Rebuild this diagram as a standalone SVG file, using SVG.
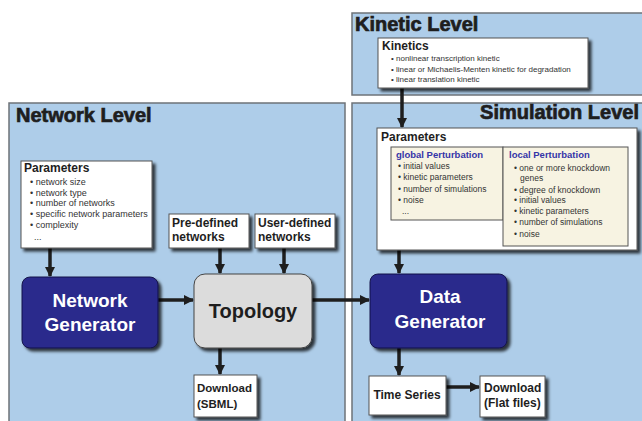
<svg xmlns="http://www.w3.org/2000/svg" width="642" height="421" viewBox="0 0 642 421">
<defs>
<filter id="sh" x="-10%" y="-10%" width="130%" height="140%">
<feDropShadow dx="3" dy="3" stdDeviation="1.6" flood-color="#000" flood-opacity="0.75"/>
</filter>
<marker id="ah" markerUnits="userSpaceOnUse" markerWidth="12" markerHeight="12" refX="9" refY="5" orient="auto">
<path d="M0,0 L10,5 L0,10 z" fill="#1e1e1e"/>
</marker>
</defs>
<style>
.panel{fill:#aecde9;stroke:#6e7378;stroke-width:1.5}
.ptitle{font-family:"Liberation Sans",Arial,sans-serif;font-weight:bold;font-size:20px;fill:#1e1e1e;stroke:#1e1e1e;stroke-width:0.7}
.box{fill:#fff;stroke:#555;stroke-width:1;filter:url(#sh)}
.sub{fill:#f7f3e2;stroke:#555;stroke-width:1}
.h{font-family:"Liberation Sans",Arial,sans-serif;font-weight:bold;font-size:12px;fill:#1e1e1e}
.it{font-family:"Liberation Sans",Arial,sans-serif;font-size:9px;fill:#333}
.it8{font-family:"Liberation Sans",Arial,sans-serif;font-size:8px;fill:#333}
.it85{font-family:"Liberation Sans",Arial,sans-serif;font-size:8.5px;fill:#333}
.bh{font-family:"Liberation Sans",Arial,sans-serif;font-weight:bold;font-size:9.5px;fill:#3535a8}
.gen{fill:#2b2b8c;stroke:#15154a;stroke-width:1;filter:url(#sh)}
.gt{font-family:"Liberation Sans",Arial,sans-serif;font-weight:bold;font-size:19px;fill:#fff;text-anchor:middle}
.topo{fill:#dcdcdc;stroke:#444;stroke-width:1;filter:url(#sh)}
.conn{stroke:#1e1e1e;stroke-width:3.5;fill:none;marker-end:url(#ah)}
</style>
<rect width="642" height="421" fill="#fff"/>
<g id="network-level">
<rect class="panel" x="9" y="103" width="336" height="330"/>
<text class="ptitle" x="16" y="122">Network Level</text>
</g>
<g id="kinetic-level">
<rect class="panel" x="352" y="13" width="300" height="82"/>
<text class="ptitle" x="355" y="31">Kinetic Level</text>
</g>
<g id="simulation-level">
<rect class="panel" x="352" y="103" width="300" height="330"/>
<text class="ptitle" x="639" y="119" text-anchor="end">Simulation Level</text>
</g>
<g id="connectors">
<line class="conn" x1="50" y1="248" x2="50" y2="276"/>
<line class="conn" x1="220" y1="248" x2="220" y2="273"/>
<line class="conn" x1="284" y1="248" x2="284" y2="273"/>
<line class="conn" x1="158" y1="300" x2="193" y2="300"/>
<line class="conn" x1="312" y1="300" x2="369" y2="300"/>
<line class="conn" x1="220" y1="348" x2="220" y2="374"/>
<line class="conn" x1="402" y1="88" x2="402" y2="127"/>
<line class="conn" x1="399" y1="250" x2="399" y2="273"/>
<line class="conn" x1="399" y1="348" x2="399" y2="375"/>
<line class="conn" x1="446" y1="387" x2="479" y2="387"/>
</g>
<g id="net-params">
<rect class="box" x="21" y="161" width="131" height="87"/>
<text class="h" x="24" y="172">Parameters</text>
<text class="it" x="30" y="185">• network size</text>
<text class="it" x="30" y="196">• network type</text>
<text class="it" x="30" y="206">• number of networks</text>
<text class="it" x="30" y="217">• specific network parameters</text>
<text class="it" x="30" y="228">• complexity</text>
<text class="it" x="34" y="240">...</text>
</g>
<g id="predefined">
<rect class="box" x="169" y="214" width="80" height="34"/>
<text class="h" x="172" y="227">Pre-defined</text>
<text class="h" x="172" y="241">networks</text>
</g>
<g id="userdefined">
<rect class="box" x="255" y="214" width="80" height="34"/>
<text class="h" x="258" y="227">User-defined</text>
<text class="h" x="258" y="241">networks</text>
</g>
<g id="network-generator">
<rect class="gen" x="22" y="277" width="136" height="71" rx="8"/>
<text class="gt" x="90" y="307">Network</text>
<text class="gt" x="90" y="331">Generator</text>
</g>
<g id="topology">
<rect class="topo" x="194" y="274" width="118" height="74" rx="11"/>
<text class="gt" x="253" y="318" style="fill:#1e1e1e;font-size:20px">Topology</text>
</g>
<g id="download-sbml">
<rect class="box" x="194" y="375" width="63" height="42"/>
<text class="h" x="197" y="392" style="font-size:11.5px">Download</text>
<text class="h" x="197" y="408" style="font-size:11.5px">(SBML)</text>
</g>
<g id="kinetics">
<rect class="box" x="378" y="38" width="210" height="50"/>
<text class="h" x="382" y="50">Kinetics</text>
<text class="it8" x="391" y="61">• nonlinear transcription kinetic</text>
<text class="it8" x="391" y="72">• linear or Michaelis-Menten kinetic for degradation</text>
<text class="it8" x="391" y="82">• linear translation kinetic</text>
</g>
<g id="sim-params">
<rect class="box" x="377" y="128" width="260" height="122"/>
<text class="h" x="381" y="141">Parameters</text>
<rect class="sub" x="391" y="147" width="112" height="73"/>
<text class="bh" x="396" y="158">global Perturbation</text>
<text class="it85" x="398" y="169">• initial values</text>
<text class="it85" x="398" y="180">• kinetic parameters</text>
<text class="it85" x="398" y="192">• number of simulations</text>
<text class="it85" x="398" y="203">• noise</text>
<text class="it85" x="402" y="214">...</text>
<rect class="sub" x="503" y="147" width="125" height="99"/>
<text class="bh" x="509" y="158">local Perturbation</text>
<text class="it85" x="514" y="171">• one or more knockdown</text>
<text class="it85" x="520" y="181">genes</text>
<text class="it85" x="514" y="193">• degree of knockdown</text>
<text class="it85" x="514" y="203">• initial values</text>
<text class="it85" x="514" y="214">• kinetic parameters</text>
<text class="it85" x="514" y="225">• number of simulations</text>
<text class="it85" x="514" y="237">• noise</text>
</g>
<g id="data-generator">
<rect class="gen" x="370" y="274" width="137" height="74" rx="8"/>
<text class="gt" x="440" y="303">Data</text>
<text class="gt" x="440" y="328">Generator</text>
</g>
<g id="time-series">
<rect class="box" x="369" y="376" width="77" height="39"/>
<text class="h" x="407" y="399" text-anchor="middle">Time Series</text>
</g>
<g id="download-flat">
<rect class="box" x="480" y="376" width="65" height="41"/>
<text class="h" x="484" y="392">Download</text>
<text class="h" x="484" y="407">(Flat files)</text>
</g>
</svg>
